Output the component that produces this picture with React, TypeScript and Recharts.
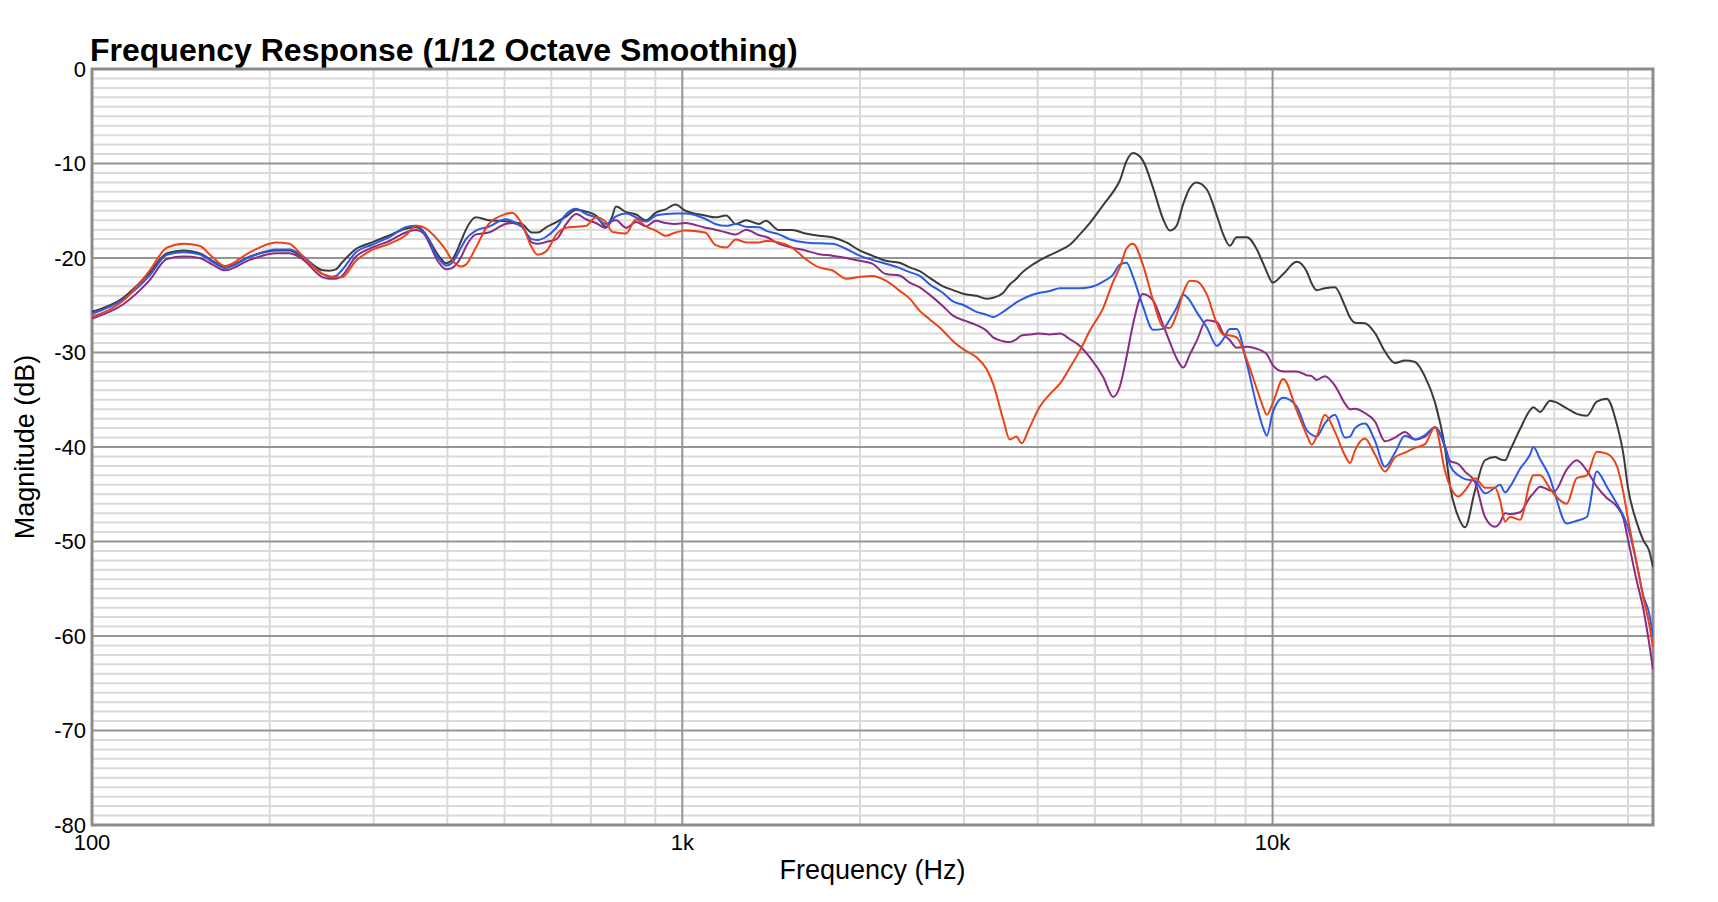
import React from "react";
import { LineChart, Line, XAxis, YAxis, CartesianGrid, ReferenceArea } from "recharts";

// frequency points (Hz)
const freqs = [
  100, 113, 125, 134, 143, 152, 160, 168, 185, 205, 216, 227, 246, 252, 259, 265, 280, 298, 319, 340,
  354, 363, 388, 398, 406, 422, 430, 447, 470, 502, 515, 535, 556, 569, 588, 612, 636, 661, 687, 714,
  742, 760, 772, 803, 835, 868, 902, 937, 974, 1012, 1093, 1137, 1187, 1232, 1283, 1350, 1385, 1458, 1534, 1617,
  1705, 1795, 1896, 1997, 2098, 2212, 2333, 2428, 2525, 2626, 2765, 2875, 3000, 3150, 3276, 3361, 3494, 3587, 3681, 3755,
  3878, 4018, 4194, 4362, 4535, 4715, 4901, 5164, 5369, 5511, 5656, 5802, 6029, 6276, 6526, 6697, 6875, 7055, 7241, 7433,
  7729, 8054, 8248, 8466, 8690, 9046, 9396, 9641, 9780, 10000, 10423, 10982, 11420, 11650, 11874, 12265, 12752, 13264, 13527, 13791,
  14335, 14910, 15499, 16118, 16757, 17428, 18119, 18843, 19588, 20000, 20635, 21183, 22025, 22900, 23815, 24281, 24770, 25247, 26258, 27305,
  27660, 28391, 29512, 30000, 31496, 32755, 34061, 35416, 36826, 38301, 39300, 40000, 41400, 42490, 43400, 44100,
];

const black = [
  -25.7, -24.2, -21.6, -19.5, -19.2, -19.5, -20.3, -21.0, -19.85, -19.2, -19.2, -19.85, -21.3, -21.35, -21.2, -20.5, -19.05, -18.35, -17.6, -16.9,
  -16.75, -17.1, -19.9, -20.55, -20.3, -18.2, -17.0, -15.7, -16.0, -16.1, -16.2, -16.4, -17.3, -17.3, -16.75, -16.2, -15.6, -14.9, -15.1, -15.5,
  -16.7, -15.7, -14.55, -15.15, -15.4, -16.0, -15.2, -14.85, -14.35, -15.0, -15.5, -15.7, -15.5, -16.4, -16.0, -16.4, -16.05, -17.05, -17.05, -17.4,
  -17.65, -17.8, -18.35, -19.2, -19.75, -20.3, -20.5, -21.0, -21.4, -22.1, -23.0, -23.4, -23.8, -24.0, -24.3, -24.2, -23.7, -22.8, -22.2, -21.6,
  -20.9, -20.3, -19.7, -19.2, -18.6, -17.5, -16.3, -14.4, -13.0, -11.8, -9.75, -8.9, -9.7, -12.6, -15.9, -17.1, -16.6, -14.3, -12.6, -12.0,
  -12.7, -15.6, -17.5, -18.7, -17.8, -17.8, -19.05, -20.6, -21.5, -22.6, -21.7, -20.4, -21.4, -22.7, -23.4, -23.2, -23.1, -25.1, -26.3, -26.85,
  -26.9, -27.95, -29.9, -31.1, -30.85, -31.0, -32.55, -35.3, -40.1, -44.3, -47.4, -48.5, -44.6, -41.4, -41.05, -41.3, -41.4, -40.35, -38.1, -36.1,
  -35.8, -36.3, -35.1, -35.2, -35.9, -36.5, -36.7, -35.2, -34.9, -37.6, -40.8, -44.3, -48.0, -49.9, -50.9, -52.7,
];

const blue = [
  -25.9, -24.35, -21.9, -19.65, -19.4, -19.6, -20.4, -21.05, -19.9, -19.1, -19.1, -19.75, -21.7, -22.0, -21.9, -21.3, -19.4, -18.6, -17.8, -16.75,
  -16.6, -17.05, -20.2, -20.8, -20.6, -18.9, -18.0, -17.1, -16.7, -15.9, -16.1, -16.7, -18.0, -18.1, -17.75, -16.8, -15.35, -14.8, -15.35, -15.7,
  -16.4, -16.0, -15.6, -15.3, -15.7, -16.15, -15.5, -15.35, -15.3, -15.3, -15.85, -16.4, -16.6, -16.4, -16.7, -16.75, -17.1, -17.5, -18.1, -18.35,
  -18.45, -18.5, -19.05, -19.75, -20.2, -20.6, -21.05, -21.5, -21.9, -22.8, -23.7, -24.6, -25.0, -25.7, -26.0, -26.25, -25.7, -25.2, -24.7, -24.4,
  -24.0, -23.7, -23.5, -23.2, -23.2, -23.2, -23.1, -22.5, -21.75, -20.7, -20.5, -22.0, -25.1, -27.6, -27.5, -26.5, -25.3, -23.9, -24.5, -25.7,
  -27.3, -29.3, -28.6, -27.5, -27.5, -31.2, -35.6, -38.0, -38.8, -36.4, -34.8, -35.7, -38.2, -38.7, -38.9, -37.5, -36.6, -39.0, -38.9, -38.0,
  -37.5, -39.35, -42.1, -40.6, -38.8, -39.2, -38.75, -37.9, -40.0, -42.0, -43.0, -43.4, -43.6, -44.9, -44.3, -44.0, -44.8, -44.2, -42.3, -40.8,
  -40.0, -41.3, -43.3, -44.7, -48.1, -47.8, -47.4, -42.6, -44.2, -46.0, -47.3, -48.5, -52.4, -55.8, -57.5, -60.0,
];

const red = [
  -26.2, -24.5, -21.4, -18.9, -18.5, -18.7, -19.9, -20.85, -19.4, -18.35, -18.5, -19.75, -21.7, -21.9, -22.05, -22.05, -20.3, -19.15, -18.5, -17.6,
  -16.6, -16.7, -18.3, -19.2, -20.1, -20.9, -20.7, -18.9, -16.4, -15.35, -15.2, -16.4, -18.9, -19.65, -19.3, -17.5, -16.8, -16.7, -16.6, -15.7,
  -16.2, -17.2, -17.3, -17.4, -15.9, -16.65, -17.1, -17.65, -17.3, -17.1, -17.3, -18.6, -18.9, -18.05, -18.35, -18.35, -18.2, -18.35, -18.9, -20.1,
  -21.0, -21.3, -22.2, -22.0, -21.9, -22.4, -23.45, -24.3, -25.6, -26.5, -27.7, -28.8, -29.7, -30.5, -31.75, -33.3, -37.0, -39.2, -38.9, -39.6,
  -37.9, -35.9, -34.4, -33.3, -31.6, -29.8, -27.7, -25.3, -22.5, -21.0, -19.0, -18.5, -20.7, -24.5, -27.3, -27.4, -26.0, -23.7, -22.4, -22.45,
  -23.8, -27.0, -28.1, -28.2, -28.4, -30.8, -33.8, -35.8, -36.6, -35.4, -32.8, -36.1, -38.7, -39.75, -38.9, -36.6, -38.4, -40.9, -41.7, -40.35,
  -39.1, -40.8, -42.6, -41.1, -40.6, -40.1, -39.7, -37.9, -42.5, -44.2, -45.25, -44.6, -43.3, -44.3, -44.3, -45.6, -47.9, -47.4, -47.7, -43.7,
  -43.0, -43.0, -44.4, -45.0, -46.0, -43.3, -43.0, -40.5, -40.7, -42.0, -44.9, -47.6, -52.4, -56.0, -58.6, -61.2,
];

const purple = [
  -26.4, -24.9, -22.4, -20.1, -19.85, -20.0, -20.7, -21.3, -20.2, -19.5, -19.5, -20.1, -22.05, -22.2, -22.2, -21.9, -19.85, -18.9, -18.2, -17.3,
  -17.05, -17.3, -20.6, -21.2, -21.1, -19.9, -18.8, -17.5, -17.3, -16.4, -16.3, -16.7, -18.35, -18.5, -18.3, -18.0, -16.4, -15.35, -15.9, -16.3,
  -16.8, -16.1, -16.0, -16.8, -16.2, -16.65, -16.05, -16.3, -16.4, -16.3, -16.8, -17.0, -17.3, -17.5, -17.0, -17.6, -17.75, -18.5, -18.9, -19.2,
  -19.6, -19.75, -20.0, -20.3, -20.6, -21.7, -21.85, -22.6, -23.1, -23.9, -25.1, -26.1, -26.6, -27.1, -27.7, -28.4, -28.8, -28.9, -28.6, -28.2,
  -28.1, -28.0, -28.1, -28.0, -28.6, -29.3, -30.5, -32.6, -34.7, -33.6, -30.5, -27.0, -23.8, -24.5, -27.1, -28.9, -30.6, -31.6, -30.2, -28.8,
  -26.6, -26.8, -28.0, -28.7, -29.5, -29.4, -29.6, -29.9, -30.2, -31.3, -32.0, -32.0, -32.4, -32.5, -32.9, -32.5, -33.5, -35.4, -36.0, -35.95,
  -36.4, -37.3, -39.4, -39.0, -38.4, -39.2, -38.9, -37.9, -39.9, -41.5, -41.8, -42.6, -43.7, -47.4, -48.45, -48.0, -47.0, -47.1, -46.9, -45.3,
  -44.9, -44.2, -44.6, -44.7, -42.4, -41.4, -42.5, -44.2, -45.4, -46.3, -47.6, -49.8, -54.2, -57.2, -60.6, -63.5,
];

const xTicks = [100, 1000, 10000];
const xTickLabels = ["100", "1k", "10k"];
const yTicks = [0, -10, -20, -30, -40, -50, -60, -70, -80];
const xMajorGrid = [1000, 10000];
const xMinorGrid = [200, 300, 400, 500, 600, 700, 800, 900, 2000, 3000, 4000, 5000, 6000, 7000, 8000, 9000, 20000, 30000, 40000];
const yMajorGrid = [-10, -20, -30, -40, -50, -60, -70];
const yMinorGrid: number[] = [];
for (let v = -1; v > -80; v--) if (v % 10 !== 0) yMinorGrid.push(v);

const rows = freqs.map((f, i) => ({ f, black: black[i], blue: blue[i], red: red[i], purple: purple[i] }));

const FONT = '"Liberation Sans", Arial, Helvetica, sans-serif';

export default function App() {
  return (
    <div style={{ position: "relative", width: 1700, height: 890, fontFamily: FONT }}>
      <div
        style={{
          position: "absolute",
          left: 82,
          top: 26,
          fontSize: 32,
          lineHeight: "32px",
          fontWeight: "bold",
          color: "#000",
          whiteSpace: "nowrap",
        }}
      >
        Frequency Response (1/12 Octave Smoothing)
      </div>
      <LineChart width={1700} height={890} data={rows} margin={{ top: 61, right: 55, bottom: 13, left: 0 }}>
        <CartesianGrid
          horizontalValues={yMinorGrid}
          verticalValues={xMinorGrid}
          stroke="#dadada"
          strokeWidth={2}
          fill="none"
        />
        <CartesianGrid
          horizontalValues={yMajorGrid}
          verticalValues={xMajorGrid}
          stroke="#959595"
          strokeWidth={2}
          fill="none"
        />
        <XAxis
          dataKey="f"
          type="number"
          scale="log"
          domain={[100, 44100]}
          allowDataOverflow
          ticks={xTicks}
          interval={0}
          tickFormatter={(v: number) => xTickLabels[xTicks.indexOf(v)] ?? String(v)}
          axisLine={false}
          tickLine={false}
          tickSize={0}
          tickMargin={9}
          height={60}
          tick={{ fontSize: 22, fill: "#000", fontFamily: FONT }}
          label={{
            value: "Frequency (Hz)",
            position: "insideBottom",
            offset: 6,
            dx: 0,
            style: { fontSize: 27, fill: "#000", fontFamily: FONT },
          }}
        />
        <YAxis
          type="number"
          domain={[-80, 0]}
          ticks={yTicks}
          interval={0}
          axisLine={false}
          tickLine={false}
          tickSize={0}
          tickMargin={6}
          width={84}
          tick={{ fontSize: 22, fill: "#000", fontFamily: FONT }}
          label={{
            value: "Magnitude (dB)",
            angle: -90,
            position: "insideLeft",
            offset: 16,
            style: { fontSize: 27, fill: "#000", fontFamily: FONT, textAnchor: "middle" },
          }}
        />
        <Line dataKey="black" type="monotone" stroke="#3b3b3b" strokeWidth={2} dot={false} isAnimationActive={false} />
        <Line dataKey="purple" type="monotone" stroke="#8c2b84" strokeWidth={2} dot={false} isAnimationActive={false} />
        <Line dataKey="blue" type="monotone" stroke="#2b5be4" strokeWidth={2} dot={false} isAnimationActive={false} />
        <Line dataKey="red" type="monotone" stroke="#ec4216" strokeWidth={2} dot={false} isAnimationActive={false} />
        <ReferenceArea x1={100} x2={44100} y1={-80} y2={0} fill="none" stroke="#8c8c8c" strokeWidth={3} />
      </LineChart>
    </div>
  );
}
